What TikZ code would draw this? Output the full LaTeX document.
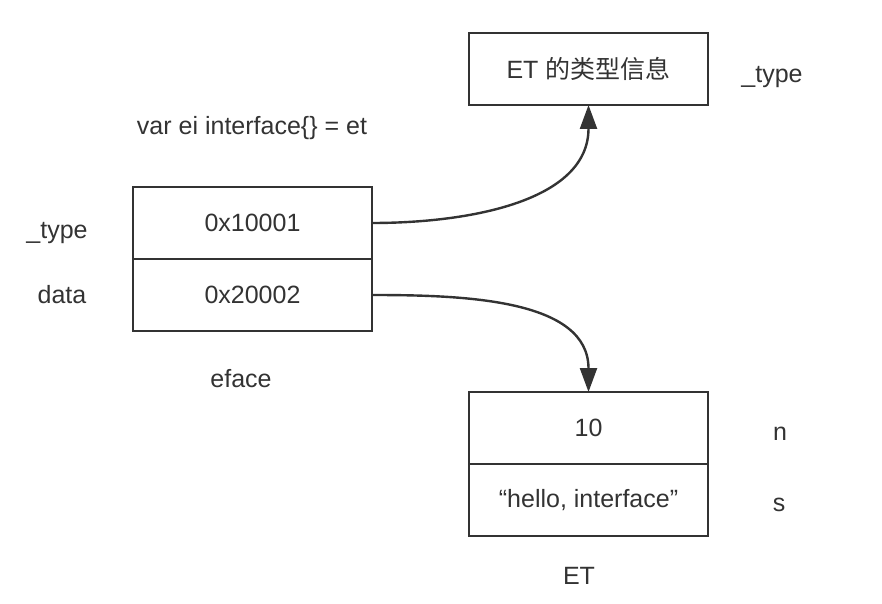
\documentclass[tikz,border=0pt]{standalone}
\usepackage{fontspec}
\setmainfont{Liberation Sans}
\newfontfamily\cjk{Noto Sans CJK SC}
\usetikzlibrary{arrows.meta,positioning}
\definecolor{ink}{HTML}{333333}

\begin{document}
\begin{tikzpicture}[x=1pt,y=1pt,>={Triangle[length=24pt,width=17pt,fill=ink]},
  cell/.style = {draw=ink, line width=2.4pt, minimum width=239pt, minimum height=72pt, inner sep=0pt, outer sep=0pt, text=ink},
  tag/.style = {text=ink, inner sep=0pt},
  link/.style = {->, draw=ink, line width=2.4pt},
  every node/.style = {font=\fontsize{25}{30}\selectfont},]
\useasboundingbox (0,0) rectangle (882,-604);
% eface
\node (T) at (252.5,-223)[cell] {0x10001};
\node (D) [cell,below=0pt of T] {0x20002};
\node (typeT) at (57,-233)[tag] {\_type};
\node (dataT) at (62,-295)[tag] {data};
\node (eface) at (241,-379)[tag] {eface};
\node (decl) at (252,-128)[tag] {var ei interface\{\} = et};
% type info
\node (info) at (588.5,-69)[cell] {ET {\cjk 的类型信息}};
\node (infoT) at (772,-77)[tag] {\_type};
% ET
\node (N) at (588.5,-428)[cell] {10};
\node (S) [cell,below=0pt of N] {“hello, interface”};
\node (nT) at (780,-434)[tag] {n};
\node (sT) at (779,-505)[tag] {s};
\node (ET) at (579,-576)[tag] {ET};
\draw[link] (T.east) to[out=0,in=-90] (info.south);
\draw[link] (D.east) to[out=0,in=90] (N.north);
\end{tikzpicture}
\end{document}
